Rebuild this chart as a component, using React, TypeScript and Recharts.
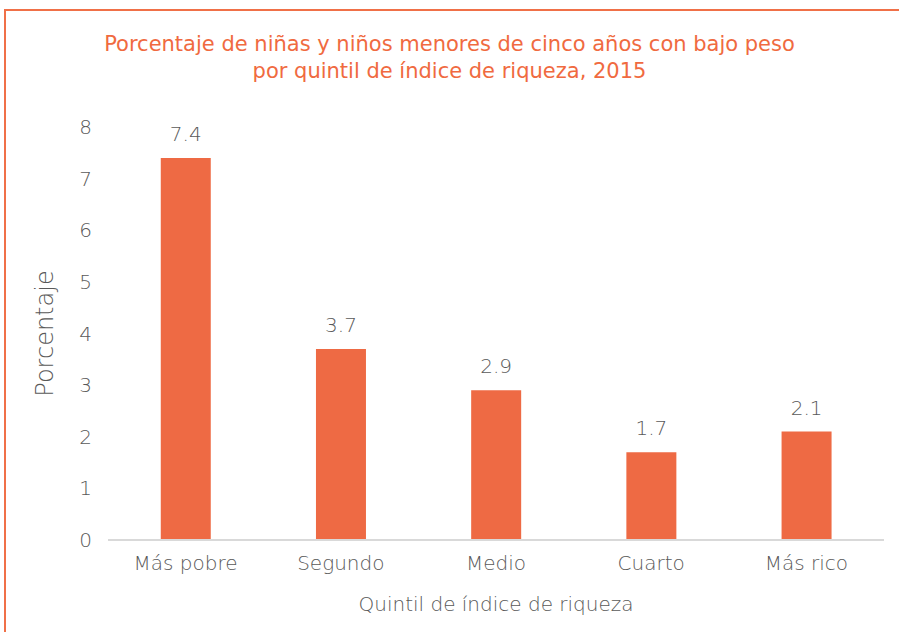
import React from "react";
import { BarChart, Bar, XAxis, YAxis, LabelList, Label } from "recharts";

const quintiles = ["Más pobre", "Segundo", "Medio", "Cuarto", "Más rico"];
const porcentajes = [7.4, 3.7, 2.9, 1.7, 2.1];
const yTicks = [0, 1, 2, 3, 4, 5, 6, 7, 8];

const ORANGE = "#EE6A44";
const TEXT = "#595959";
const FONT = "'DejaVu Sans', 'Open Sans', sans-serif";

export default function App() {
  const data = quintiles.map((q, i) => ({ quintil: q, valor: porcentajes[i] }));

  return (
    <div style={{ position: "absolute", left: 0, top: 0, width: 899, height: 632, background: "#fff", fontFamily: FONT }}>
      <div
        style={{
          position: "absolute",
          left: 4,
          top: 9,
          width: 895,
          height: 623,
          borderTop: "2px solid #F07048",
          borderLeft: "2px solid #F07048",
        }}
      />
      <div
        style={{
          position: "absolute",
          left: 0,
          top: 31,
          width: 899,
          textAlign: "center",
          color: "#F06A40",
          fontSize: 21,
          lineHeight: "27px",
        }}
      >
        Porcentaje de niñas y niños menores de cinco años con bajo peso
        <br />
        por quintil de índice de riqueza, 2015
      </div>
      <BarChart
        width={899}
        height={632}
        data={data}
        margin={{ top: 127, right: 15, left: 8, bottom: 62 }}
        barCategoryGap="34%"
        style={{ position: "absolute", left: 0, top: 0 }}
      >
        <XAxis
          dataKey="quintil"
          axisLine={{ stroke: "#D9D9D9", strokeWidth: 2 }}
          tickLine={false}
          tick={{ fontSize: 20, fill: TEXT, fontFamily: FONT, fontWeight: 300 }}
          tickMargin={10}
        >
          <Label value="Quintil de índice de riqueza" position="insideBottom" offset={-41} style={{ fontSize: 20, fill: TEXT, fontFamily: FONT, fontWeight: 300 }} />
        </XAxis>
        <YAxis
          domain={[0, 8]}
          ticks={yTicks}
          width={100}
          axisLine={false}
          tickLine={false}
          tickMargin={10}
          tick={{ fontSize: 20, fill: TEXT, fontFamily: FONT, fontWeight: 300 }}
        >
          <Label
            value="Porcentaje"
            angle={-90}
            position="insideLeft"
            offset={36}
            style={{ fontSize: 24, fill: TEXT, fontFamily: FONT, fontWeight: 300, textAnchor: "middle" }}
          />
        </YAxis>
        <Bar dataKey="valor" fill={ORANGE} isAnimationActive={false}>
          <LabelList dataKey="valor" position="top" offset={17} style={{ fontSize: 20, fill: TEXT, fontFamily: FONT, fontWeight: 300 }} formatter={(v: number) => v.toFixed(1)} />
        </Bar>
      </BarChart>
    </div>
  );
}
